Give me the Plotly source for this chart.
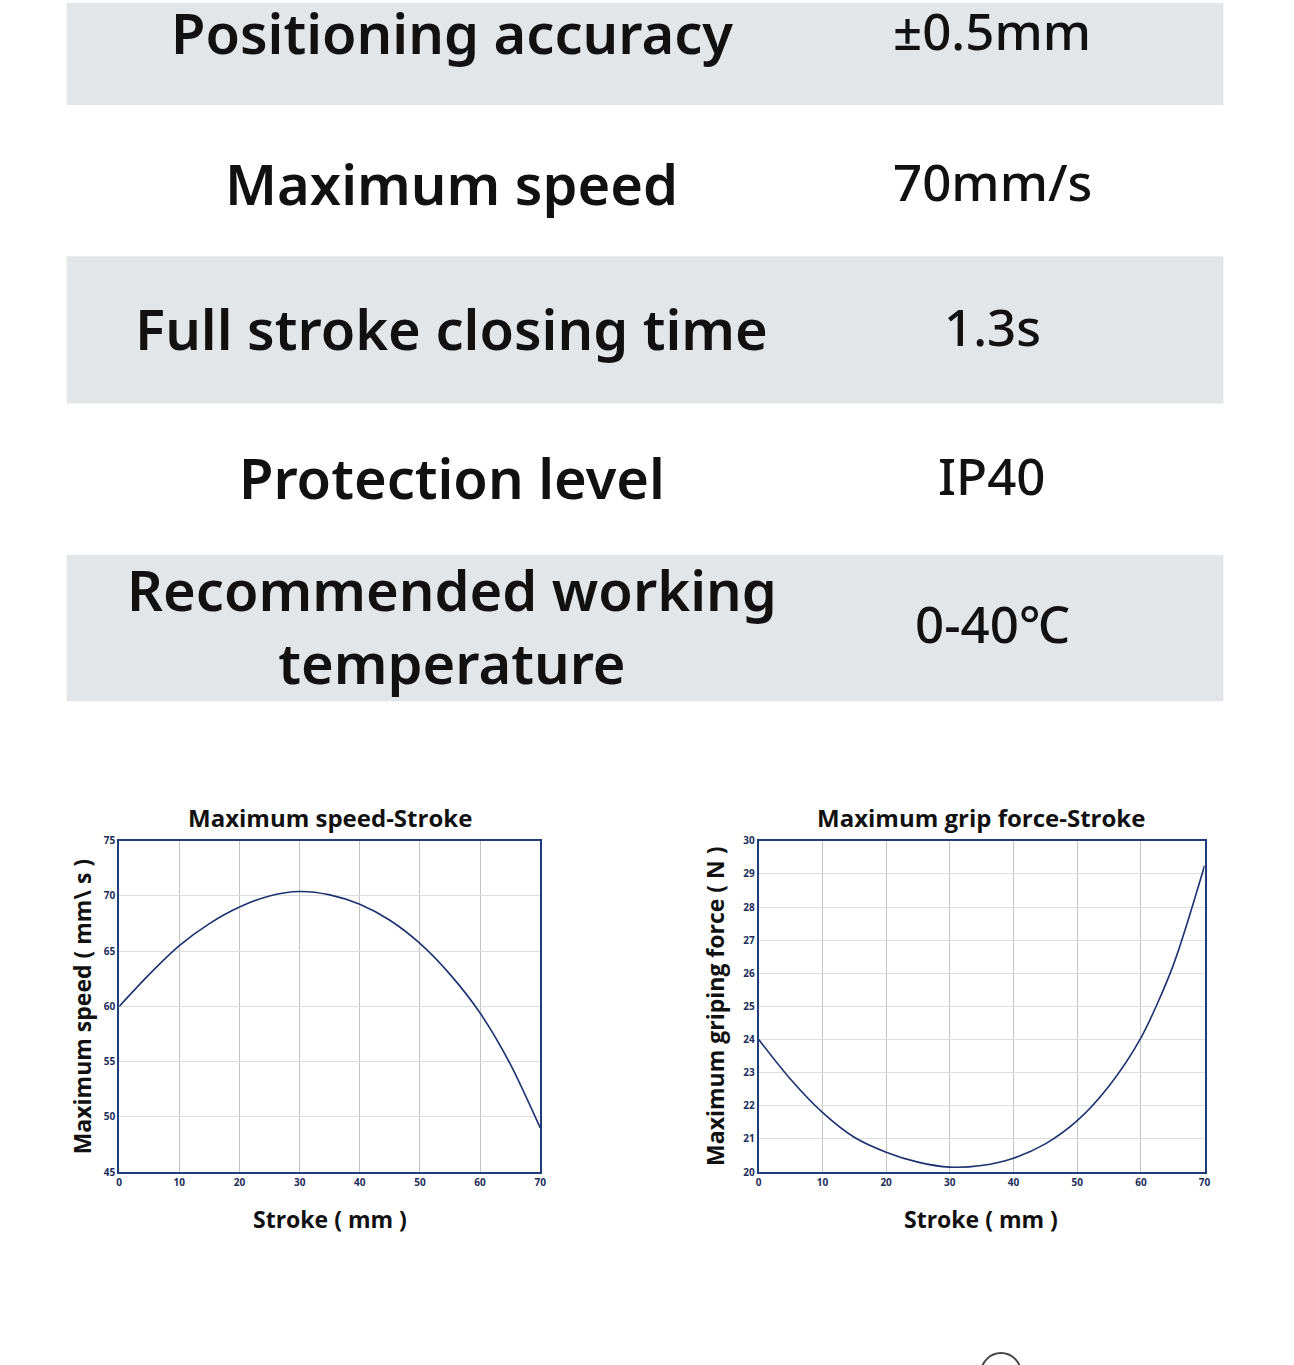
import plotly.graph_objects as go

W, H = 1294, 1365

# spec table
spec_names = ['Positioning accuracy', 'Maximum speed', 'Full stroke closing time',
              'Protection level', 'Recommended working<br>temperature']
spec_values = ['±0.5mm', '70mm/s', '1.3s', 'IP40', '0-40℃']

# curves
stroke = [0, 5, 10, 15, 20, 25, 30, 35, 40, 45, 50, 55, 60, 65, 70]
speed = [60.0, 62.9, 65.5, 67.5, 69.0, 70.0, 70.4, 70.1, 69.25, 67.8, 65.7, 62.9, 59.4, 54.8, 49.0]
force = [24.0, 22.8, 21.8, 21.05, 20.6, 20.3, 20.15, 20.2, 20.42, 20.85, 21.55, 22.6, 24.05, 26.2, 29.25]

x_ticks = [0, 10, 20, 30, 40, 50, 60, 70]
speed_ticks = [45, 50, 55, 60, 65, 70, 75]
force_ticks = list(range(20, 31))


def px(x):
    return x / W


def py(y):
    return 1 - y / H


NAVY = '#1b3170'
TICK = '#1c2d5a'
BAND = '#e3e6e9'

fig = go.Figure()

fig.add_trace(go.Scatter(x=stroke, y=speed, mode='lines', line=dict(color=NAVY, width=1.6, shape='spline', smoothing=0.8),
                         xaxis='x', yaxis='y', showlegend=False))
fig.add_trace(go.Scatter(x=stroke, y=force, mode='lines', line=dict(color=NAVY, width=1.6, shape='spline', smoothing=0.8),
                         xaxis='x2', yaxis='y2', showlegend=False))

# grey bands of the table
shapes = []
for top, bot in [(-5, 98), (251, 400), (553, 701)]:
    shapes.append(dict(type='rect', xref='paper', yref='paper', x0=px(64), x1=px(1229),
                       y0=py(bot), y1=py(top), fillcolor=BAND, line=dict(width=0), layer='below'))
# cut-off icon at the bottom
shapes.append(dict(type='circle', xref='paper', yref='paper', x0=px(985), x1=px(1025),
                   y0=py(1400), y1=py(1360), line=dict(color='#444444', width=2)))


def label(text, x, y, size, weight, family, angle=0):
    return dict(text=text, x=px(x), y=py(y), xref='paper', yref='paper', showarrow=False,
                xanchor='center', yanchor='middle', textangle=angle,
                font=dict(family=family, size=size, color='#111111', weight=weight))


ann = []
row_y = [24, 177, 324, 474, 624]
for name, val, y in zip(spec_names, spec_values, row_y):
    ann.append(label(name, 452, y, 56, 600, 'Noto Sans'))
    ann.append(label(val, 996, y - 2, 51, 500, 'Noto Sans'))

chart_font = 'Open Sans'
for title, cx in [('Maximum speed-Stroke', 329), ('Maximum grip force-Stroke', 985)]:
    ann.append(label(title, cx, 818, 24, 'bold', chart_font))
for cx in [329, 985]:
    ann.append(label('Stroke ( mm )', cx, 1224, 23, 'bold', chart_font))
for text, cx in [('Maximum speed ( mm\\ s )', 79), ('Maximum griping force ( N )', 717)]:
    ann.append(label(text, cx, 1010, 23, 'bold', chart_font, angle=-90))

axis_common = dict(showline=True, mirror=True, linecolor='#1f3d7a', linewidth=2, ticks='',
                   tickfont=dict(family=chart_font, size=10, color=TICK, weight='bold'),
                   showgrid=True, zeroline=False, fixedrange=True)

fig.update_layout(
    width=W, height=H, margin=dict(l=0, r=0, t=0, b=0),
    paper_bgcolor='white', plot_bgcolor='white',
    shapes=shapes, annotations=ann,
    xaxis=dict(domain=[px(117), px(541)], range=[0, 70], tickvals=x_ticks, gridcolor='#c4c4c4',
               anchor='y', **axis_common),
    yaxis=dict(domain=[py(1177), py(842)], range=[45, 75], tickvals=speed_ticks, gridcolor='#dedede',
               anchor='x', **axis_common),
    xaxis2=dict(domain=[px(761), px(1210)], range=[0, 70], tickvals=x_ticks, gridcolor='#c4c4c4',
                anchor='y2', **axis_common),
    yaxis2=dict(domain=[py(1177), py(842)], range=[20, 30], tickvals=force_ticks, gridcolor='#dedede',
                anchor='x2', **axis_common),
)

# page margin off so the figure sits at the window corner
fig.write_html('out.html', config={'displayModeBar': False},
               post_script="document.body.style.margin='0px';")
